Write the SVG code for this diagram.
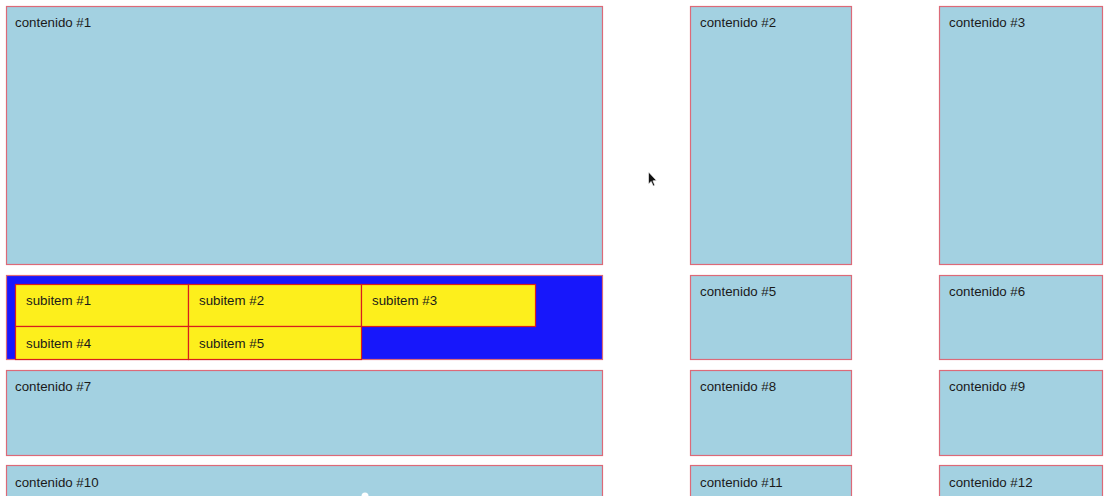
<svg xmlns="http://www.w3.org/2000/svg" width="1109" height="496" viewBox="0 0 1109 496">
<style>
.box{fill:#a3d1e1;stroke:#dc6a78;stroke-width:1.2}
.wrap{fill:#1717fb;stroke:#dc6a78;stroke-width:1.2}
.sub{fill:#fdef1c;stroke:#d81e1e;stroke-width:1.2}
text{font-family:"Liberation Sans",Arial,sans-serif;font-size:13.3px;fill:#1a1a1a}
</style>
<rect width="1109" height="496" fill="#ffffff"/>
<g id="c1"><rect class="box" x="6.5" y="6.5" width="596" height="258"/><text x="15" y="27">contenido #1</text></g>
<g id="c2"><rect class="box" x="690.5" y="6.5" width="161" height="258"/><text x="700" y="27">contenido #2</text></g>
<g id="c3"><rect class="box" x="939.5" y="6.5" width="163" height="258"/><text x="949" y="27">contenido #3</text></g>
<g id="c4"><rect class="wrap" x="6.5" y="275.5" width="596" height="84"/>
<g id="s1"><rect class="sub" x="15.5" y="284.5" width="173" height="42"/><text x="26" y="305">subitem #1</text></g>
<g id="s2"><rect class="sub" x="188.5" y="284.5" width="173" height="42"/><text x="199" y="305">subitem #2</text></g>
<g id="s3"><rect class="sub" x="361.5" y="284.5" width="174" height="42"/><text x="372" y="305">subitem #3</text></g>
<g id="s4"><rect class="sub" x="15.5" y="326.5" width="173" height="33"/><text x="26" y="348">subitem #4</text></g>
<g id="s5"><rect class="sub" x="188.5" y="326.5" width="173" height="33"/><text x="199" y="348">subitem #5</text></g>
</g>
<g id="c5"><rect class="box" x="690.5" y="275.5" width="161" height="84"/><text x="700" y="296">contenido #5</text></g>
<g id="c6"><rect class="box" x="939.5" y="275.5" width="163" height="84"/><text x="949" y="296">contenido #6</text></g>
<g id="c7"><rect class="box" x="6.5" y="370.5" width="596" height="85"/><text x="15" y="391">contenido #7</text></g>
<g id="c8"><rect class="box" x="690.5" y="370.5" width="161" height="85"/><text x="700" y="391">contenido #8</text></g>
<g id="c9"><rect class="box" x="939.5" y="370.5" width="163" height="85"/><text x="949" y="391">contenido #9</text></g>
<g id="c10"><rect class="box" x="6.5" y="465.5" width="596" height="40"/><text x="15" y="487">contenido #10</text></g>
<g id="c11"><rect class="box" x="690.5" y="465.5" width="161" height="40"/><text x="700" y="487">contenido #11</text></g>
<g id="c12"><rect class="box" x="939.5" y="465.5" width="163" height="40"/><text x="949" y="487">contenido #12</text></g>
<g id="connectors"></g>
<path d="M648.5 172 L648.5 184 L651.2 181.4 L653.2 186 L654.8 185.3 L652.9 180.8 L656.5 180.6 Z" fill="#111" stroke="#fff" stroke-width="0.6"/>
<circle cx="365" cy="496" r="3.5" fill="#ffffff"/>
</svg>
